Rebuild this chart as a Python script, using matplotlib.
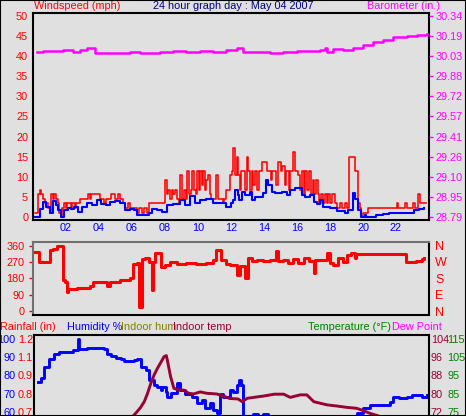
import matplotlib
matplotlib.use('Agg')
import matplotlib.pyplot as plt
from matplotlib.patches import Rectangle

plt.rcParams['font.family'] = ['Liberation Sans', 'DejaVu Sans']
plt.rcParams['font.size'] = 8

# ---- data ----
hour_ticks = [2, 4, 6, 8, 10, 12, 14, 16, 18, 20, 22]
hour_labels = ['02', '04', '06', '08', '10', '12', '14', '16', '18', '20', '22']

gust_h = [0.15, 0.3, 0.4, 0.5, 0.6, 0.75, 0.9, 1.05, 1.1, 1.2, 1.3, 1.4, 1.5, 1.6, 1.68, 1.75,
          1.85, 2.0, 2.05, 2.3, 2.35, 2.55, 2.6, 2.85, 3.35, 3.45, 3.5, 4.05, 4.3, 4.4, 4.75,
          4.95, 5.15, 5.3, 5.45, 5.55, 5.75, 5.9, 6.3, 6.45, 6.6, 6.75, 6.9, 7.0, 8.0, 8.1,
          8.2, 8.3, 8.4, 8.5, 8.6, 8.7, 8.85, 8.9, 9.0, 9.15, 9.25, 9.35, 9.45, 9.55, 9.65,
          9.75, 9.85, 9.95, 10.05, 10.15, 10.25, 10.3, 10.4, 10.5, 10.6, 10.7, 10.8, 11.1,
          11.2, 11.5, 11.6, 11.7, 11.95, 12.05, 12.15, 12.25, 12.35, 12.45, 12.55, 12.6,
          12.75, 12.85, 12.95, 13.05, 13.15, 13.25, 13.35, 13.45, 13.6, 13.7, 13.9, 14.2,
          14.4, 14.5, 14.7, 14.85, 15.0, 15.1, 15.25, 15.35, 15.5, 15.6, 15.75, 15.85, 16.05,
          16.2, 16.3, 16.4, 16.5, 16.6, 16.7, 16.85, 16.95, 17.05, 17.15, 17.25, 17.35, 17.45,
          17.55, 17.7, 17.8, 17.9, 18.0, 18.1, 18.3, 18.4, 18.6, 18.7, 18.9, 19.0, 19.15,
          19.5, 19.7, 19.8, 19.9, 20.0, 20.3, 22.05, 22.15, 22.55, 22.65, 23.05, 23.15, 23.35,
          23.45, 23.8]
gust = [1.2, 5.8, 6.9, 5.8, 4.6, 3.5, 2.3, 1.2, 5.8, 4.6, 5.8, 4.6, 3.5, 1.2, 0, 2.3,
        3.5, 2.3, 3.5, 2.3, 3.5, 2.3, 3.5, 4.6, 5.8, 4.6, 5.8, 4.6, 3.5, 4.6, 5.8,
        4.6, 5.8, 4.6, 3.5, 2.3, 3.5, 2.3, 1.2, 2.3, 1.2, 2.3, 1.2, 3.5, 9.2, 5.8,
        6.9, 4.6, 6.9, 5.8, 6.9, 4.6, 3.5, 10.4, 4.6, 6.9, 4.6, 11.5, 5.8, 6.9, 11.5,
        6.9, 5.8, 11.5, 6.9, 11.5, 8.1, 11.5, 6.9, 9.2, 10.4, 5.8, 4.6, 10.4,
        4.6, 3.5, 4.6, 6.9, 10.4, 11.5, 17.3, 10.4, 15.0, 10.4, 6.9, 11.5,
        11.5, 6.9, 15.0, 11.5, 6.9, 11.5, 8.1, 11.5, 6.9, 11.5, 13.8, 11.5,
        9.2, 11.5, 8.1, 13.8, 11.5, 12.7, 8.1, 11.5, 6.9, 11.5, 16.1, 11.5, 10.4,
        6.9, 11.5, 5.8, 11.5, 6.9, 11.5, 5.8, 9.2, 5.8, 9.2, 5.8, 3.5, 5.8,
        3.5, 5.8, 3.5, 5.8, 3.5, 5.8, 3.5, 2.3, 3.5, 2.3, 3.5, 2.3, 15.0,
        11.5, 3.5, 2.3, 0.3, 1.2, 2.3, 3.5, 2.3, 3.5, 2.3, 3.5, 2.3, 5.8,
        3.5, 3.5]

avg_h = [0.15, 0.35, 0.45, 0.6, 0.8, 1.0, 1.2, 1.4, 1.5, 1.7, 1.9, 2.1, 2.3, 2.5, 2.7, 2.95,
         3.25, 3.55, 3.85, 4.15, 4.4, 4.65, 4.95, 5.25, 5.55, 5.9, 6.1, 6.3, 6.7, 7.0, 7.2,
         7.5, 7.8, 8.1, 8.5, 8.9, 9.2, 9.5, 9.8, 10.1, 10.5, 10.9, 11.3, 11.7, 12.0, 12.15,
         12.25, 12.45, 12.5, 12.65, 12.85, 13.15, 13.25, 13.45, 13.7, 13.96, 14.1, 14.26,
         14.46, 14.67, 14.87, 15.07, 15.4, 15.6, 15.9, 16.1, 16.3, 16.5, 16.8, 17.0, 17.2,
         17.4, 17.6, 17.8, 18.0, 18.4, 18.9, 19.1, 19.4, 19.5, 19.7, 19.9, 20.1, 20.2, 20.4,
         20.8, 21.2, 21.6, 22.0, 22.8, 23.1, 23.4, 23.7]
avg = [0, 0, 2.0, 3.9, 2.7, 1.2, 4.0, 3.1, 1.9, 0, 1.9, 2.3, 2.0, 2.5, 1.4, 2.7,
       3.5, 3.1, 4.3, 3.3, 3.1, 3.9, 4.1, 3.5, 1.9, 2.0, 1.9, 0.6, 0.6, 1.2, 2.0,
       1.9, 1.4, 3.1, 3.3, 4.3, 3.1, 5.3, 3.5, 4.3, 4.5, 3.6, 3.5, 2.5, 3.5, 4.3,
       6.8, 5.5, 4.3, 6.4, 5.5, 6.4, 4.3, 5.1, 5.1, 6.0, 9.3, 8.0,
       6.4, 6.0, 6.0, 6.4, 5.5, 6.8, 7.2, 7.2, 5.5, 5.1, 5.5, 3.9, 3.3,
       4.3, 2.7, 2.5, 2.3, 1.7, 1.2, 1.9, 6.0, 4.7, 1.9, 0, 0.6, 0, 0,
       0.6, 0.8, 1.0, 1.0, 1.0, 1.9, 2.0, 2.3]

baro_h = [0.22, 0.6, 1.2, 1.6, 1.8, 2.4, 2.85, 3.25, 3.55, 3.75, 4.45, 5.3, 5.9, 6.5, 6.9,
          7.7, 8.5, 9.3, 10.1, 10.9, 11.7, 12.34, 12.75, 13.35, 14.36, 15.17, 15.98, 17.4,
          17.7, 17.8, 18.2, 18.8, 19.4, 20.0, 20.6, 21.2, 21.8, 22.65, 23.25, 23.85]
baro = [30.057, 30.069, 30.065, 30.065, 30.075, 30.062, 30.075, 30.088, 30.092, 30.054,
        30.049, 30.049, 30.059, 30.054, 30.049, 30.057, 30.067, 30.062, 30.065, 30.057,
        30.075, 30.088, 30.062, 30.057, 30.049, 30.057, 30.067, 30.075, 30.088, 30.062,
        30.080, 30.075, 30.088, 30.113, 30.138, 30.151, 30.172, 30.184, 30.190, 30.197]
baro_ticks = [28.79, 28.945, 29.10, 29.255, 29.41, 29.565, 29.72, 29.875, 30.03, 30.185, 30.34]
baro_labels = ['28.79', '28.95', '29.10', '29.26', '29.41', '29.57', '29.72', '29.88',
               '30.03', '30.19', '30.34']

dir_h = [0.12, 0.38, 0.6, 0.93, 1.03, 1.23, 1.43, 1.74, 1.8, 1.94, 2.04, 2.14, 2.65, 3.25,
         3.45, 3.66, 4.06, 4.46, 4.67, 5.27, 5.88, 6.08, 6.28, 6.45, 6.6, 6.8, 7.0, 7.2, 7.3,
         7.4, 7.65, 7.74, 8.0, 8.3, 8.7, 9.3, 9.9, 10.5, 10.9, 11.1, 11.4, 11.7, 11.94,
         12.14, 12.34, 12.55, 12.85, 13.0, 13.25, 13.55, 13.96, 14.36, 14.7, 14.87, 15.17,
         15.47, 15.78, 16.08, 16.4, 16.7, 17.0, 17.1, 17.4, 17.8, 18.0, 18.2, 18.5, 18.8,
         19.0, 19.3, 19.5, 19.6, 20.0, 21.2, 22.5, 22.6, 23.2, 23.6, 23.7]
direction = [323, 268, 272, 272, 336, 343, 360, 360, 171, 162, 106, 123, 127, 127,
             140, 162, 162, 140, 162, 171, 180, 260, 265, 24, 286, 290, 272, 115, 268,
             318, 322, 244, 255, 270, 258, 262, 258, 262, 282, 336, 282, 258, 256,
             254, 198, 250, 184, 291, 273, 282, 273, 282, 331, 273, 282,
             264, 287, 264, 291, 273, 207, 282, 282, 318, 264, 254, 291, 269,
             309, 318, 294, 314, 314, 313, 313, 272, 276, 287, 291]
dir_ticks = [0, 90, 180, 270, 360]
dir_labels = ['N', 'E', 'S', 'W', 'N']

hum_h = [0.22, 0.42, 0.63, 0.93, 1.23, 1.54, 2.04, 2.34, 2.65, 2.7, 2.75, 3.25, 3.86, 4.26,
         4.46, 4.67, 4.97, 5.27, 5.47, 6.08, 6.28, 6.48, 6.78, 7.0, 7.3, 7.5, 7.7, 7.8, 8.0,
         8.1, 8.3, 8.7, 8.9, 9.2, 9.6, 9.9, 10.2, 10.4, 10.7, 10.9, 11.1, 11.3, 11.5, 11.9,
         12.1, 12.34, 12.45, 12.55, 12.7, 13.0, 13.3, 13.6, 13.9, 14.2, 15.0, 16.0, 17.0,
         18.0, 19.2, 19.6, 20.0, 20.4, 20.8, 21.2, 21.6, 21.8, 22.2, 22.65, 22.95, 23.45,
         23.55, 23.85]
humidity = [76.5, 78.3, 84.8, 89.1, 91.9, 93.0, 93.0, 93.8, 94.3, 100, 94.3, 95.0, 95.0, 94.3,
            91.6, 90.6, 89.6, 89.1, 88.1, 88.5, 89.1, 84.8, 83.0, 77.4, 74.7, 73.8, 72.0, 73.8, 71.0,
            68.3, 70.1, 75.6, 71.9, 69.5, 68.3, 64.6, 66.4, 61.8, 64.6, 61.0, 59.3, 69.5, 68.3, 71.9,
            71.0, 74.7, 77.4, 74.7, 57.0, 57.5, 58.8, 57.0, 58.5, 56.5, 55.5, 54.5, 54.0,
            54.5, 57.3, 59.1, 61.9, 63.7, 63.7, 63.7, 65.5, 67.9, 67.4, 67.9, 69.2, 69.2,
            67.9, 69.2]
hum_ticks = [60, 70, 80, 90, 100]
rain_labels = ['0.7', '0.8', '0.9', '1.1', '1.2']

itemp_h = [5.98, 6.18, 6.48, 6.7, 6.9, 7.1, 7.3, 7.5, 7.7, 7.9, 8.04, 8.14, 8.3, 8.5, 8.8, 9.1,
           9.4, 9.7, 10.1, 10.5, 11.1, 11.5, 11.9, 12.4, 12.65, 12.96, 13.96, 14.6, 15.17,
           15.57, 16.17, 16.58, 17.0, 17.4, 17.8, 18.4, 19.0, 19.6, 20.0, 20.4, 20.9, 21.5,
           22.5, 23.5]
itemp = [69.8, 71.3, 73.9, 76.4, 80.1, 84.5, 88.2, 91.1, 93.6, 96.2, 96.7, 93.3, 87.4, 82.3,
         81.5, 81.5, 80.1, 79.8, 80.7, 80.1, 79.8, 78.9, 77.8, 77.6, 76.4, 77.9, 78.9, 79.7,
         79.7, 78.3, 79.4, 79.4, 76.4, 75.7, 75.0, 74.5, 73.9, 73.5, 72.5, 71.3, 70.2, 68.5,
         67.5, 67.0]
itemp_ticks = [72, 80, 88, 96, 104]
otemp_ticks = [75, 85, 95, 105, 115]

bg = '#e0e0e0'
red = '#ff0000'
blue = '#0000ff'
magenta = '#ff00ff'
maroon = '#990033'
green = '#008000'
olive = '#808000'
navy = '#000080'
fs = 7.8

W, H = 466, 416
fig = plt.figure(figsize=(W / 100, H / 100), dpi=100, facecolor=bg)


def box(x0, y0, x1, y1):
    # pixel box -> figure fraction
    return [x0 / W, 1 - y1 / H, (x1 - x0) / W, (y1 - y0) / H]


# ---------- panel 1 : wind + barometer ----------
ax1 = fig.add_axes(box(33, 13, 429, 220), facecolor=bg)
ax1.plot(gust_h, gust, color=red, lw=1.15, drawstyle='steps-post')
ax1.plot(avg_h, avg, color=blue, lw=1.5, drawstyle='steps-post')
ax1.set_xlim(0, 24)
ax1.set_ylim(-0.62, 50.62)
ax1.set_yticks(range(0, 51, 5))
ax1.tick_params(axis='y', length=0, pad=3.5, labelcolor=red, labelsize=fs)
ax1.set_xticks(hour_ticks)
ax1.set_xticklabels(hour_labels)
ax1.tick_params(axis='x', length=0, pad=2, labelcolor=blue, labelsize=fs)
for s in ax1.spines.values():
    s.set_color('black')
    s.set_linewidth(1.5)

ax1b = ax1.twinx()
ax1b.plot(baro_h, baro, color=magenta, lw=1.8, drawstyle='steps-post')
ax1b.set_ylim(28.79 - 0.62 * 0.031, 28.79 + 50.62 * 0.031)
ax1b.set_yticks(baro_ticks)
ax1b.set_yticklabels(baro_labels)
ax1b.tick_params(axis='y', length=3, width=1, color=magenta, pad=1.5, labelcolor=magenta,
                 labelsize=fs)
for s in ax1b.spines.values():
    s.set_visible(False)

fig.text(34 / W, 1 - 6 / H, 'Windspeed (mph)', color=red, fontsize=fs, va='center', ha='left')
fig.text(233 / W, 1 - 6 / H, '24 hour graph day : May 04 2007', color=navy, fontsize=fs,
         va='center', ha='center')
fig.text(440 / W, 1 - 6 / H, 'Barometer (in.)', color=magenta, fontsize=fs, va='center',
         ha='right')

# ---------- panel 2 : wind direction ----------
ax2 = fig.add_axes(box(33, 242, 429, 315), facecolor=bg)
ax2.plot(dir_h, direction, color=red, lw=2.2, drawstyle='steps-post')
ax2.set_xlim(0, 24)
ax2.set_ylim(-22, 380)
ax2.set_xticks([])
ax2.set_yticks(dir_ticks)
ax2.tick_params(axis='y', length=3, width=1, color=red, pad=3, labelcolor=red, labelsize=fs)
ax2.spines['top'].set_color('#707070')
ax2.spines['left'].set_color('#707070')
ax2.spines['right'].set_color('black')
ax2.spines['bottom'].set_color('black')
for s in ax2.spines.values():
    s.set_linewidth(1.5)
ax2b = ax2.twinx()
ax2b.set_ylim(-22, 380)
ax2b.set_yticks(dir_ticks)
ax2b.set_yticklabels(dir_labels)
ax2b.tick_params(axis='y', length=0, pad=4.5, labelcolor=red, labelsize=9)
for s in ax2b.spines.values():
    s.set_visible(False)

# ---------- panel 3 : humidity / temperatures (runs off the bottom) ----------
hum_lim = (22.4, 102.2)
ax3 = fig.add_axes(box(34, 335, 429, 480), facecolor=bg)
ax3.plot(hum_h, humidity, color=blue, lw=2.1, drawstyle='steps-post')
ax3.set_xlim(0, 24)
ax3.set_ylim(*hum_lim)
ax3.set_xticks([])
ax3.set_yticks(hum_ticks)
ax3.set_yticklabels(rain_labels)
ax3.tick_params(axis='y', length=0, pad=0.8, labelcolor=red, labelsize=fs)
for s in ax3.spines.values():
    s.set_color('black')
    s.set_linewidth(1.5)

ax3h = ax3.twinx()
ax3h.yaxis.tick_left()
ax3h.set_ylim(*hum_lim)
ax3h.set_yticks(hum_ticks)
ax3h.tick_params(axis='y', length=0, pad=13.5, labelcolor=blue, labelsize=fs)
for s in ax3h.spines.values():
    s.set_visible(False)

ax3t = ax3.twinx()
ax3t.plot(itemp_h, itemp, color=maroon, lw=2.1)
ax3t.set_ylim(72 + (hum_lim[0] - 60) * 0.8, 72 + (hum_lim[1] - 60) * 0.8)
ax3t.set_yticks(itemp_ticks)
ax3t.tick_params(axis='y', length=0, pad=1.4, labelcolor=maroon, labelsize=fs)
for s in ax3t.spines.values():
    s.set_visible(False)

ax3o = ax3.twinx()
ax3o.set_ylim(hum_lim[0] + 15, hum_lim[1] + 15)
ax3o.set_yticks(otemp_ticks)
ax3o.tick_params(axis='y', length=0, pad=13, labelcolor=green, labelsize=fs)
for s in ax3o.spines.values():
    s.set_visible(False)

ty = 1 - 327 / H
fig.text(0, ty, 'Rainfall (in)', color=red, fontsize=fs, va='center', ha='left')
fig.text(67 / W, ty, 'Humidity %', color=blue, fontsize=fs, va='center', ha='left')
fig.text(121 / W, ty, 'Indoor hum', color=olive, fontsize=fs, va='center', ha='left')
fig.text(173 / W, ty, 'Indoor temp', color=maroon, fontsize=fs, va='center', ha='left')
fig.text(391 / W, ty, 'Temperature (°F)', color=green, fontsize=fs, va='center', ha='right')
fig.text(392 / W, ty, 'Dew Point', color=magenta, fontsize=fs, va='center', ha='left')

# outer frame
fig.patches.append(Rectangle((0, 0), 1, 1, transform=fig.transFigure, fill=False,
                             edgecolor='black', lw=1.5))

plt.savefig('out.png', dpi=100, facecolor=bg)
